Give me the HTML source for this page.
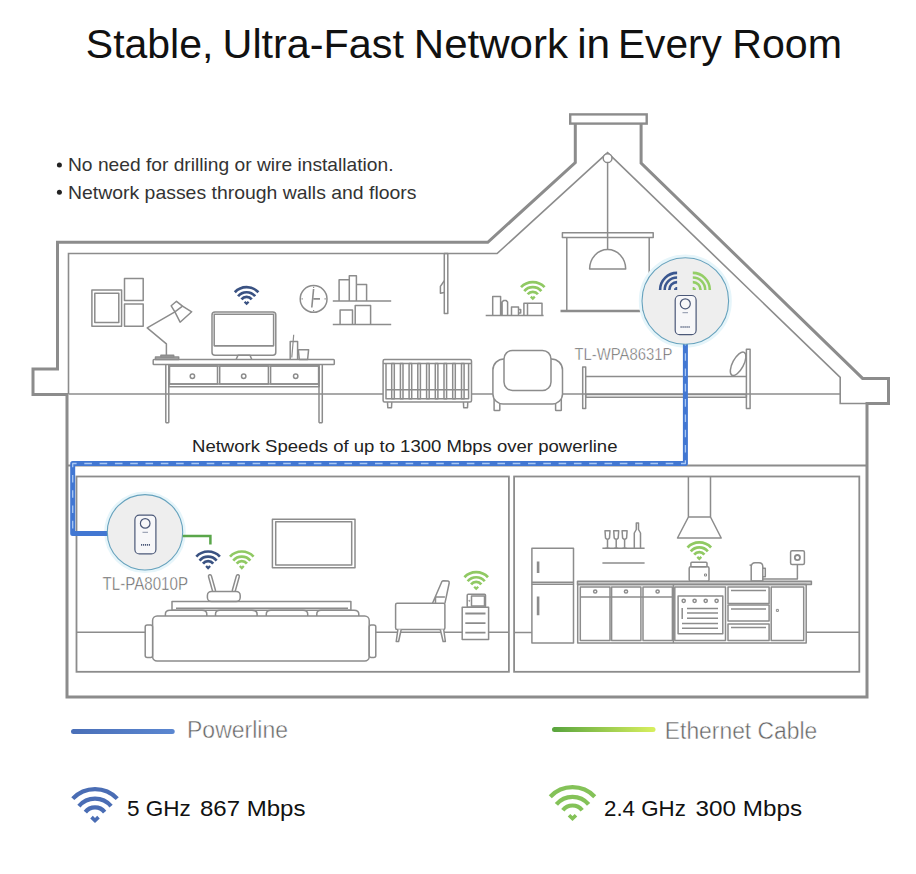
<!DOCTYPE html>
<html><head><meta charset="utf-8">
<style>
html,body{margin:0;padding:0;background:#fff;width:916px;height:874px;overflow:hidden}
svg{position:absolute;left:0;top:0;display:block}
text{font-family:"Liberation Sans",sans-serif;white-space:pre}
</style></head>
<body>
<svg width="916" height="874" viewBox="0 0 916 874">
<defs>
  <g id="wifi" fill="none" stroke-width="4.2">
    <path d="M-22.23,-21.02 A30.6,30.6 0 0 1 22.23,-21.02"/>
    <path d="M-16.09,-13.50 A21,21 0 0 1 16.09,-13.50"/>
    <path d="M-9.65,-7.62 A12.3,12.3 0 0 1 9.65,-7.62"/>
    <path d="M-3.5,-2.6 L0,0.8 L3.5,-2.6" stroke-width="3.6" stroke-linejoin="miter"/>
  </g>
  <g id="wifis" fill="none" stroke-width="2.7">
    <path d="M-11.79,-11.14 A16.22,16.22 0 0 1 11.79,-11.14"/>
    <path d="M-8.53,-7.15 A11.13,11.13 0 0 1 8.53,-7.15"/>
    <path d="M-5.12,-4.04 A6.52,6.52 0 0 1 5.12,-4.04"/>
    <path d="M-2,-1.7 L0,0.3 L2,-1.7" stroke-width="2.3" stroke-linejoin="miter"/>
  </g>
  <g id="qwifi" fill="none" stroke-width="2.6">
    <path d="M-17,0 A17,17 0 0 1 0,-17"/>
    <path d="M-12.4,0 A12.4,12.4 0 0 1 0,-12.4"/>
    <path d="M-7.8,0 A7.8,7.8 0 0 1 0,-7.8"/>
    <path d="M-3,-0.8 L-0.8,-0.8 L-0.8,-3" stroke-width="1.8"/>
  </g>
  <linearGradient id="gEth" gradientUnits="userSpaceOnUse" x1="554" x2="653" y1="0" y2="0">
    <stop offset="0" stop-color="#5aa53e"/><stop offset="1" stop-color="#d6ee5e"/>
  </linearGradient>
  <linearGradient id="gPow" gradientUnits="userSpaceOnUse" x1="73" x2="172" y1="0" y2="0">
    <stop offset="0" stop-color="#4a6fb8"/><stop offset="1" stop-color="#5a86d0"/>
  </linearGradient>
</defs>

<!-- Title -->
<text x="85.80" y="58" font-size="40" fill="#111" textLength="127.60" lengthAdjust="spacingAndGlyphs">Stable,</text><text x="222.60" y="58" font-size="40" fill="#111" textLength="181.40" lengthAdjust="spacingAndGlyphs">Ultra-Fast</text><text x="413.80" y="58" font-size="40" fill="#111" textLength="154.20" lengthAdjust="spacingAndGlyphs">Network</text><text x="577.20" y="58" font-size="40" fill="#111" textLength="33.00" lengthAdjust="spacingAndGlyphs">in</text><text x="618.00" y="58" font-size="40" fill="#111" textLength="103.80" lengthAdjust="spacingAndGlyphs">Every</text><text x="732.20" y="58" font-size="40" fill="#111" textLength="109.80" lengthAdjust="spacingAndGlyphs">Room</text>
<!-- bullets -->
<circle cx="59.4" cy="165.1" r="2.5" fill="#222"/>
<circle cx="59.4" cy="192.2" r="2.5" fill="#222"/>
<text x="68" y="170.8" font-size="19" fill="#333" textLength="325.5" lengthAdjust="spacingAndGlyphs">No need for drilling or wire installation.</text>
<text x="68" y="198.7" font-size="19" fill="#333" textLength="348.5" lengthAdjust="spacingAndGlyphs">Network passes through walls and floors</text>

<!-- HOUSE -->
<g fill="none" stroke="#8c8c8c" stroke-linejoin="miter">
  <!-- outer thick -->
  <path stroke-width="3" d="M575.3,124 L575.3,162.5 L487.8,242.3 L57.5,242.3 L57.5,369 L33,369 L33,394.5 L67,394.5 L67,697 L867,697 L867,403.5 L888.5,403.5 L888.5,378.4 L862.6,378.4 L641.1,163.2 L641.1,124"/>
  <rect x="570.2" y="114.4" width="76.5" height="9.2" stroke-width="2.4"/>
  <!-- inner attic -->
  <path stroke-width="1.6" d="M68.5,394 L68.5,253.5 L497.1,253.5 L607.6,152.6 L840.2,377.4 L840.2,403.5 L867,403.5"/>
  <circle cx="607.6" cy="158.2" r="4.4" stroke-width="1.5" fill="#fff"/>
  <!-- upper floor line -->
  <path stroke-width="1.7" d="M68.5,394 L840.2,394"/>
  <!-- middle floor line -->
  <path stroke-width="2" d="M67,465.5 L867,465.5"/>
  <!-- rooms -->
  <rect x="76.5" y="476.5" width="432.4" height="195.3" stroke-width="1.8"/>
  <rect x="514.1" y="476.5" width="345.2" height="195.3" stroke-width="1.8"/>
</g>


<!-- ATTIC FURNITURE -->
<g fill="none" stroke="#8c8c8c" stroke-width="1.5" stroke-linejoin="round">
  <!-- frames -->
  <rect x="91.9" y="290.1" width="29.7" height="36.1"/>
  <rect x="94.8" y="293.2" width="24" height="29.2"/>
  <rect x="124.5" y="278.4" width="18.7" height="22.2"/>
  <rect x="124.5" y="304" width="18.7" height="22.2"/>
  <!-- desk lamp -->
  <rect x="155.5" y="357.1" width="23.2" height="2.5" fill="#b0b0b0"/>
  <rect x="160.9" y="355.2" width="12.8" height="1.9"/>
  <path d="M166.4,355 L166.4,343.9 L147.2,327.9 L174.9,311.8"/>
  <path d="M171.2,305.8 L176.5,301.3 L182.5,306.2 L174.9,311.8 Z"/>
  <path d="M174.9,311.8 L180.1,322.2 L191.7,311.8 L182.5,306.2"/>
  <!-- desk -->
  <rect x="153.2" y="359.6" width="181.1" height="4.9" rx="0.8"/>
  <path d="M165.8,364.3 L165.8,422.8 M168.8,364.3 L168.8,422.8 M165.8,422.8 L168.8,422.8"/>
  <path d="M319,364.3 L319,422.8 M322.3,364.3 L322.3,422.8 M319,422.8 L322.3,422.8"/>
  <rect x="168.8" y="366" width="150.2" height="20.8"/>
  <path d="M168.8,384 L319,384"/>
  <rect x="169.5" y="366" width="48" height="18"/>
  <rect x="219.7" y="366" width="48.7" height="18"/>
  <rect x="270.6" y="366" width="48" height="18"/>
  <circle cx="192.4" cy="376.3" r="2.2"/>
  <circle cx="243.7" cy="376.3" r="2.2"/>
  <circle cx="295.7" cy="376.3" r="2.2"/>
  <!-- monitor -->
  <rect x="212" y="312.1" width="63.8" height="43.1" rx="3"/>
  <path d="M214.2,345.8 L273.6,345.8"/>
  <rect x="214.2" y="314.3" width="59.4" height="31.5"/>
  <path d="M236.1,359.5 L238,355.2 L250,355.2 L251.8,359.5"/>
  <!-- cup & glass -->
  <path d="M290.2,359.5 L290.2,341.6 L297.6,341.6 L297.6,359.5"/>
  <path d="M291.8,357.5 L293.7,334.8" stroke-width="1.2"/>
  <path d="M298.3,349.7 L299.3,359.5 L307.6,359.5 L308.6,349.7 Z"/>
  <!-- clock -->
  <circle cx="313.6" cy="298.9" r="13.4"/>
  <path d="M313.6,289 L311.8,307.5 M313.6,298.9 L320,298.9" stroke-width="1.6"/>
  <path d="M313.6,286.7 L313.6,288 M313.6,310 L313.6,311.2 M301.5,298.9 L302.8,298.9 M324.5,298.9 L325.8,298.9" stroke-width="1.2"/>
  <!-- shelves -->
  <path d="M332.8,300.9 L391.2,300.9 M332.8,324.5 L391.2,324.5"/>
  <path d="M339.1,300.9 L339.1,279.7 L349.3,279.7 L349.3,300.9 M349.3,300.9 L349.3,275.7 L356.4,275.7 L356.4,300.9 M356.4,300.9 L356.4,284.6 L366.6,284.6 L366.6,300.9"/>
  <path d="M340.1,324.5 L340.1,310.1 L352.5,310.1 L352.5,324.5 M355.2,324.5 L355.2,305.6 L370.6,305.6 L370.6,324.5"/>
  <!-- wall lamp -->
  <rect x="444.3" y="253.5" width="3.5" height="59.9"/>
  <path d="M444.3,280.8 L440.4,286.4 L440.4,293.2 L444.3,292.4"/>
  <!-- crib -->
  <rect x="383.1" y="359.5" width="88.4" height="42.6" rx="1.5" fill="#fff"/>
  <path d="M383.1,363.4 L471.5,363.4 M386,363.4 L386,398.8 L468.6,398.8 L468.6,363.4 M386,389.7 L468.6,389.7"/>
  <path d="M387.5,402.1 L387.8,407.8 L391.5,407.8 L391.8,402.1 M463.4,402.1 L463.7,407.8 L467.5,407.8 L467.8,402.1"/>
  <rect x="391.7" y="363.4" width="2.6" height="35.4"/><rect x="400.4" y="363.4" width="2.6" height="35.4"/><rect x="409.1" y="363.4" width="2.6" height="35.4"/><rect x="417.8" y="363.4" width="2.6" height="35.4"/><rect x="426.6" y="363.4" width="2.6" height="35.4"/><rect x="435.3" y="363.4" width="2.6" height="35.4"/><rect x="444.0" y="363.4" width="2.6" height="35.4"/><rect x="452.7" y="363.4" width="2.6" height="35.4"/><rect x="461.5" y="363.4" width="2.6" height="35.4"/>
  <!-- armchair attic -->
  <rect x="494.1" y="398" width="5.7" height="12.4" rx="0.5"/>
  <rect x="555.6" y="398" width="5.7" height="12.4" rx="0.5"/>
  <path fill="#fff" d="M504,358.9 A11.1,11.1 0 0 0 492.9,370 L492.9,394 A10.2,9.9 0 0 0 503.1,403.9 L552.3,403.9 A10.2,9.9 0 0 0 562.5,394 L562.5,370 A11.1,11.1 0 0 0 551.4,358.9 Z"/>
  <rect x="504" y="350.4" width="47" height="40.1" rx="8.5" fill="#fff"/>
  <!-- green shelf items -->
  <path d="M485.7,315.4 L543.6,315.4"/>
  <path d="M492.7,315.4 L492.7,296.6 L500.6,296.6 L500.6,315.4 M502.1,315.4 L502.1,302 L503.5,300.6 L506.2,300.6 L507.6,302 L507.6,315.4 M511.5,315.4 L511.5,307.1 L518.5,307.1 L518.5,315.4 M518.5,309.5 L520.7,309.5 L520.7,313 L518.5,313 M523.9,315.4 L523.9,303.2 L542,303.2 L542,315.4 M527.5,303.2 L527.5,315.4"/>
  <!-- projector screen -->
  <rect x="562.4" y="232.7" width="90.8" height="4.7"/>
  <path d="M566.8,237.4 L566.8,310 M649.2,237.4 L649.2,310"/>
  <path d="M560.5,311 L655,311" stroke-width="2.6"/>
  <path d="M607.6,162.6 L607.6,249.5"/>
  <path d="M589.6,269.1 A18,19.6 0 0 1 625.7,269.1 Z"/>
  <!-- bed -->
  <rect x="582.7" y="367.1" width="3" height="41.5"/>
  <rect x="746.4" y="349.2" width="3.7" height="59.4"/>
  <path d="M585.7,376.5 L746.4,376.5"/>
  <rect x="585.7" y="394.4" width="160.7" height="2.8"/>
  <ellipse cx="738.1" cy="363.8" rx="5.5" ry="13" transform="rotate(28 738.1 363.8)"/>
</g>
<!-- attic wifi -->
<use href="#wifis" transform="translate(246.6,303.4)" style="stroke:#3a5282"/>
<use href="#wifis" transform="translate(532.8,298.3)" style="stroke:#90c963"/>


<!-- LIVING ROOM -->
<g fill="none" stroke="#8c8c8c" stroke-width="1.5" stroke-linejoin="round">
  <path d="M76.5,632.2 L145.2,632.2 M375.8,632.2 L508.9,632.2"/>
  <!-- tv -->
  <rect x="272.4" y="519.2" width="82.6" height="48.5"/>
  <rect x="275.7" y="521.8" width="76" height="43.2"/>
  <!-- router -->
  <rect x="210.5" y="574.5" width="3" height="18" rx="1.5" transform="rotate(-15.6 212 583.5)"/>
  <rect x="234.3" y="574.5" width="3" height="18" rx="1.5" transform="rotate(15.6 235.8 583.5)"/>
  <rect x="207.4" y="591.4" width="32.8" height="10.2" rx="4" fill="#fff"/>
  <!-- sofa -->
  <rect x="172" y="601.6" width="178.9" height="8.6"/>
  <path d="M176,608.2 L348,608.2"/>
  <path d="M165.4,616 L165.4,614 Q165.4,610.2 170,610.2 L202,610.2 Q206.8,610.2 206.8,614 L206.8,616"/>
  <path d="M215.5,616 L215.5,614 Q215.5,610.2 220,610.2 L252,610.2 Q257.1,610.2 257.1,614 L257.1,616"/>
  <path d="M266.3,616 L266.3,614 Q266.3,610.2 271,610.2 L303,610.2 Q307.7,610.2 307.7,614 L307.7,616"/>
  <path d="M316.8,616 L316.8,614 Q316.8,610.2 321,610.2 L354,610.2 Q358.8,610.2 358.8,614 L358.8,616"/>
  <rect x="152.6" y="616" width="216.6" height="45" rx="4.5" fill="#fff"/>
  <rect x="145.2" y="625.1" width="7.4" height="32.3" rx="2" fill="#fff"/>
  <rect x="369.2" y="625.1" width="6.6" height="32.3" rx="2" fill="#fff"/>
  <!-- armchair -->
  <path d="M432.5,603.3 L441.9,581.5 Q442.5,580.8 443.5,580.8 L448,581 Q449.5,581.5 449.2,583 L444.9,603.3 M435.5,603.3 L435.5,596.9 L444.9,596.9"/>
  <rect x="395.6" y="603.3" width="49.3" height="26.2" rx="1.5" fill="#fff"/>
  <path d="M397.9,629.5 L396.2,641.5 L398.6,641.5 L401.2,629.5 M440.3,629.5 L443.1,641.5 L445.4,641.5 L443.7,629.5" fill="#fff"/>
  <!-- nightstand -->
  <rect x="462.2" y="607.3" width="26.4" height="32.2" fill="#fff"/>
  <path d="M465.3,613.5 L485.5,613.5 M465.3,623.1 L485.5,623.1 M465.3,632.7 L485.5,632.7" stroke-width="1.8"/>
  <rect x="467.2" y="594.3" width="18.3" height="13" rx="1"/>
  <rect x="471.5" y="596" width="13" height="9.9"/>
  <circle cx="469.3" cy="600.8" r="0.5" stroke-width="1"/>
</g>
<use href="#wifis" transform="translate(208.1,567.7)" style="stroke:#3a5282"/>
<use href="#wifis" transform="translate(241.8,567.7)" style="stroke:#90c963"/>
<use href="#wifis" transform="translate(476.2,588.4)" style="stroke:#90c963"/>

<!-- KITCHEN -->
<g fill="none" stroke="#8c8c8c" stroke-width="1.5" stroke-linejoin="round">
  <path d="M514.1,632.5 L531.9,632.5 M806.2,632.3 L859.3,632.3"/>
  <!-- fridge -->
  <rect x="531.9" y="548.3" width="41.6" height="94.7"/>
  <path d="M531.9,582.2 L573.5,582.2 M531.9,584.3 L573.5,584.3"/>
  <path d="M538.1,561.6 L538.1,573 M538.1,596.6 L538.1,615.2" stroke-width="2.6"/>
  <!-- shelf -->
  <path d="M602.4,548.3 L644.6,548.3 M602.4,563.1 L644.6,563.1"/>
  <path d="M605,530.7 L610,530.7 L609.5,538 Q607.5,540.5 605.5,538 Z M607.5,539.5 L607.5,548.3 M605.5,548.3 L609.5,548.3"/>
  <path d="M613.7,530.7 L618.7,530.7 L618.2,538 Q616.2,540.5 614.2,538 Z M616.2,539.5 L616.2,548.3 M614.2,548.3 L618.2,548.3"/>
  <path d="M622.1,530.7 L627.1,530.7 L626.6,538 Q624.6,540.5 622.6,538 Z M624.6,539.5 L624.6,548.3 M622.6,548.3 L626.6,548.3"/>
  <path d="M634.3,548.3 L634.3,533 L636.3,529.5 L636.3,523 L638.5,523 L638.5,529.5 L640.5,533 L640.5,548.3"/>
  <!-- hood -->
  <path d="M688.4,476.5 L688.4,517 M710.5,476.5 L710.5,517 M688.4,517 L710.5,517 L721.2,538 L677.5,538 Z"/>
  <!-- toaster -->
  <rect x="689.2" y="566.8" width="19.8" height="14.4" rx="1.5"/>
  <rect x="690.9" y="562.3" width="16.1" height="4.5" rx="1"/>
  <rect x="704.5" y="574" width="2" height="2" stroke-width="1"/>
  <!-- counter -->
  <rect x="577.5" y="581.2" width="233.9" height="3.3" fill="#c8c8c8"/>
  <rect x="577.7" y="584.6" width="228.5" height="58.4"/>
  <rect x="580.3" y="587" width="29.7" height="53.5"/>
  <rect x="611.6" y="587" width="29.3" height="53.5"/>
  <rect x="643" y="587" width="29.4" height="53.5"/>
  <path d="M580.3,597 L672.4,597"/>
  <circle cx="595.2" cy="591.5" r="1.6"/>
  <circle cx="626" cy="591.5" r="1.6"/>
  <circle cx="657.6" cy="591.5" r="1.6"/>
  <path d="M673.4,584.6 L673.4,643"/>
  <!-- oven -->
  <rect x="674.8" y="587" width="50.7" height="53.5"/>
  <rect x="678.1" y="596" width="44.7" height="37.7"/>
  <circle cx="683.7" cy="600.8" r="1.6"/>
  <circle cx="694.6" cy="600.8" r="1.6"/>
  <circle cx="705.7" cy="600.8" r="1.6"/>
  <circle cx="716.6" cy="600.8" r="1.6"/>
  <path d="M687,608.4 L718,608.4 M687,613.1 L718,613.1 M687,618.3 L718,618.3 M682,623.4 L718,623.4 M682,628.2 L718,628.2 M682.2,608 L682.2,619"/>
  <!-- drawers -->
  <rect x="728" y="587" width="41.1" height="16.4"/>
  <rect x="728" y="604.9" width="41.1" height="16.1"/>
  <rect x="728" y="624" width="41.1" height="16.5"/>
  <path d="M731,590.5 L766,590.5 M731,609 L766,609 M731,627.5 L766,627.5"/>
  <rect x="771.2" y="587" width="32.5" height="53.5"/>
  <rect x="776.4" y="609.4" width="2" height="2" stroke-width="1"/>
  <!-- kettle -->
  <path d="M751.2,581 L751.2,566.5 Q751.5,563 755,562.8 L759,562.8 Q762.8,563 762.8,566.5 L762.8,581 Z M762.8,568.3 L765.3,568.3 L765.3,576.7 L762.8,576.7 M751.2,565.3 L749.6,565"/>
  <!-- socket -->
  <rect x="790.6" y="550.8" width="13.8" height="13.7" rx="1.5"/>
  <circle cx="797.4" cy="557.6" r="2.6" stroke-width="1.8"/>
  <path d="M797.4,564.5 L797.4,579.1 L763,579.1"/>
</g>
<use href="#wifis" transform="translate(699.3,558.6)" style="stroke:#90c963"/>

<!-- halos -->
<circle cx="685.3" cy="301" r="45" fill="none" stroke="#e6f5fa" stroke-width="3"/>
<circle cx="145" cy="532.3" r="39.3" fill="none" stroke="#e6f5fa" stroke-width="3"/>
<!-- Blue powerline -->
<g fill="none" stroke-linejoin="round">
  <path d="M685.4,344 L685.4,463.5 L72.7,463.5 L72.7,533.5 L108,533.5" stroke="#4277d2" stroke-width="5"/>
  <path d="M685.4,344 L685.4,463.5 L72.7,463.5 L72.7,533.5" stroke="#a9c8f4" stroke-width="1.3" stroke-dasharray="7.6 7.7" stroke-dashoffset="6.1"/>
</g>
<text x="192" y="451.9" font-size="16.5" fill="#222" textLength="425.5" lengthAdjust="spacingAndGlyphs">Network Speeds of up to 1300 Mbps over powerline</text>

<!-- Adapter circles -->
<g>
  <circle cx="685.3" cy="301" r="43.3" fill="#eeeeee" stroke="#66a2bd" stroke-width="1.1"/>
  <use href="#qwifi" transform="translate(677.1,289.9)" style="stroke:#3b5790"/>
  <use href="#qwifi" transform="translate(692.8,289.9) scale(-1,1)" style="stroke:#94ce66"/>
  <rect x="675.2" y="295.5" width="20.9" height="39.2" rx="4.5" fill="#f7f7f9" stroke="#4b5878" stroke-width="1.2"/>
  <circle cx="685.3" cy="303.8" r="5" fill="none" stroke="#4b5878" stroke-width="1.2"/>
  <path d="M680.5,326.9 L690.5,326.9" stroke="#4b5878" stroke-width="1.5" stroke-dasharray="1.2 0.8"/>
  <path d="M682.5,312.7 L688,312.7" stroke="#8a93a8" stroke-width="1"/>

  <circle cx="145" cy="532.3" r="37.7" fill="#eeeeee" stroke="#66a2bd" stroke-width="1.1"/>
  <rect x="134.9" y="515.2" width="21" height="38.7" rx="4.5" fill="#f7f7f9" stroke="#4b5878" stroke-width="1.2"/>
  <circle cx="145.2" cy="523.4" r="4.8" fill="none" stroke="#4b5878" stroke-width="1.2"/>
  <path d="M141,544.8 L150,544.8" stroke="#4b5878" stroke-width="1.8" stroke-dasharray="1.2 0.8"/>
  <path d="M142.5,532.3 L148,532.3" stroke="#8a93a8" stroke-width="1"/>
  <!-- ethernet -->
  <path d="M182.7,536.1 L210.4,536.1 L210.4,544.5" fill="none" stroke="#5aa64a" stroke-width="2.5"/>
</g>
<text x="574.5" y="359.5" font-size="17" fill="#595959" stroke="#fff" stroke-width="0.5" textLength="98" lengthAdjust="spacingAndGlyphs">TL-WPA8631P</text>
<text x="102.5" y="589.7" font-size="18.5" fill="#595959" stroke="#fff" stroke-width="0.5" textLength="85.5" lengthAdjust="spacingAndGlyphs">TL-PA8010P</text>

<!-- Legend -->
<path d="M73.5,731.5 L172.2,731.5" stroke="url(#gPow)" stroke-width="5" stroke-linecap="round"/>
<text x="187" y="738.3" font-size="23" fill="#666" stroke="#fff" stroke-width="0.45" textLength="101" lengthAdjust="spacingAndGlyphs">Powerline</text>
<path d="M554.5,729.4 L653,729.4" stroke="url(#gEth)" stroke-width="5" stroke-linecap="round"/>
<text x="664.8" y="738.6" font-size="23" fill="#666" stroke="#fff" stroke-width="0.45" textLength="152.5" lengthAdjust="spacingAndGlyphs">Ethernet Cable</text>

<use href="#wifi" transform="translate(95,819.7)" style="stroke:#4a6db4"/>
<text x="127" y="816" font-size="22.2" fill="#111" textLength="63.8" lengthAdjust="spacingAndGlyphs">5 GHz</text>
<text x="200" y="816" font-size="22.2" fill="#111" textLength="105.5" lengthAdjust="spacingAndGlyphs">867 Mbps</text>
<use href="#wifi" transform="translate(572.5,817.8)" style="stroke:#84c258"/>
<text x="604" y="816" font-size="22.2" fill="#111" textLength="81.8" lengthAdjust="spacingAndGlyphs">2.4 GHz</text>
<text x="695.6" y="816" font-size="22.2" fill="#111" textLength="106.5" lengthAdjust="spacingAndGlyphs">300 Mbps</text>

</svg>
</body></html>
